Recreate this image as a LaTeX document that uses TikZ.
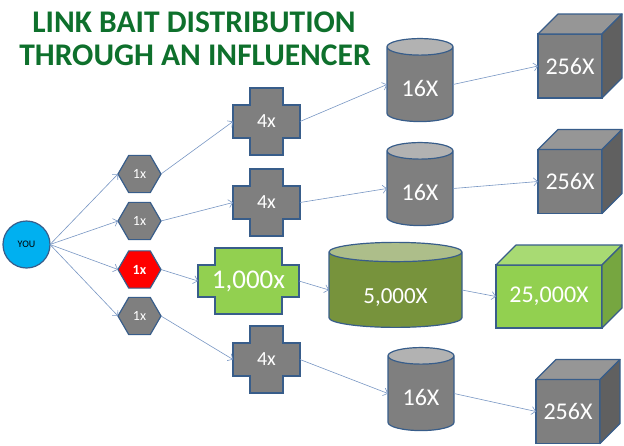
\documentclass[tikz,border=0pt]{standalone}
\usepackage{fontspec}
\setmainfont{Carlito}
\usetikzlibrary{arrows.meta,shapes.geometric,backgrounds}
\definecolor{lb_edge}{RGB}{56, 93, 138}
\definecolor{lb_link}{RGB}{120, 150, 195}
\definecolor{lb_gray}{RGB}{127, 127, 127}
\definecolor{lb_lid}{RGB}{178, 178, 178}
\definecolor{lb_top}{RGB}{150, 150, 150}
\definecolor{lb_side}{RGB}{96, 96, 96}
\definecolor{lb_cyan}{RGB}{0, 176, 240}
\definecolor{lb_red}{RGB}{255, 0, 0}
\definecolor{lb_green}{RGB}{146, 208, 80}
\definecolor{lb_greentop}{RGB}{168, 218, 115}
\definecolor{lb_greenside}{RGB}{118, 166, 64}
\definecolor{lb_olive}{RGB}{119, 147, 60}
\definecolor{lb_olivelid}{RGB}{173, 190, 138}
\definecolor{lb_title}{RGB}{14, 112, 44}
\tikzstyle{you}=[circle,fill=lb_cyan,draw=lb_edge,line width=1.2pt,
  minimum size=47pt,inner sep=0pt,outer sep=0pt,font=\fontsize{10}{12}\selectfont]
\tikzstyle{hex}=[regular polygon,regular polygon sides=6,fill=lb_gray,draw=lb_edge,
  line width=1.2pt,minimum size=43pt,inner sep=0pt,outer sep=0pt,text=white,
  font=\fontsize{14}{16}\selectfont]
\tikzstyle{plus}=[rectangle,minimum width=67pt,minimum height=67pt,inner sep=0pt,
  outer sep=0pt,text=white,font=\fontsize{20}{22}\selectfont]
\tikzstyle{can}=[cylinder,shape border rotate=90,draw=lb_edge,line width=1.2pt,
  cylinder uses custom fill,cylinder body fill=lb_gray,cylinder end fill=lb_lid,
  minimum width=66pt,minimum height=83pt,aspect=0.45,inner sep=0pt,outer sep=0pt,
  text height=24pt,text depth=0pt,text=white,font=\fontsize{24}{26}\selectfont]
\tikzstyle{face}=[rectangle,fill=lb_gray,draw=lb_edge,line width=1.2pt,
  minimum width=64pt,minimum height=64pt,inner sep=0pt,outer sep=0pt,text=white,
  font=\fontsize{24}{26}\selectfont]
\tikzstyle{title}=[anchor=base,text=lb_title,font=\fontsize{31.5}{34}\selectfont\bfseries]
\tikzstyle{link}=[draw=lb_link,line width=0.6pt,-{Straight Barb[length=4pt,width=8pt]}]

\begin{document}
\begin{tikzpicture}[x=1pt,y=-1pt]
            \useasboundingbox (0,0) rectangle (624,445);
            \node [style=title] (17) at (194, 32) {LINK BAIT DISTRIBUTION};
            \node [style=title] (18) at (195, 65) {THROUGH AN INFLUENCER};
            \node [style=you] (0) at (26.5, 244.5) {YOU};
            \node [style=hex] (1) at (139.5, 174) {1x};
            \node [style=hex] (2) at (139.5, 221) {1x};
            \node [style=hex, fill=lb_red, font=\fontsize{14}{16}\selectfont\bfseries] (3) at (139.5, 269.5) {1x};
            \node [style=hex] (4) at (139.5, 316) {1x};
            \node [style=plus] (5) at (266.5, 121.5) {4x};
            \node [style=plus] (6) at (266.5, 202.5) {4x};
            \node [style=plus, minimum width=101pt, minimum height=66pt, font=\fontsize{27}{29}\selectfont] (7) at (248.5, 281) {1,000x};
            \node [style=plus] (8) at (266.5, 359.5) {4x};
            \node [style=can] (9) at (420, 84.5) {16X};
            \node [style=can] (10) at (420, 188.5) {16X};
            \node [style=can, cylinder body fill=lb_olive, cylinder end fill=lb_olivelid, minimum width=133pt, minimum height=85pt, aspect=0.3, text height=27pt, font=\fontsize{23}{25}\selectfont] (11) at (395.5, 290) {5,000X};
            \node [style=can] (12) at (421, 393.5) {16X};
            \node [style=face] (13) at (570, 66) {256X};
            \node [style=face] (14) at (570, 181.5) {256X};
            \node [style=face, fill=lb_green, minimum width=106pt, minimum height=63pt] (15) at (549, 296.5) {25,000X};
            \node [style=face] (16) at (568, 411.5) {256X};
            \begin{pgfonlayer}{background}
            \foreach \n/\c in {5/lb_gray, 6/lb_gray, 7/lb_green, 8/lb_gray}
                \draw [fill=\c, draw=lb_edge, line width=1.2pt]
                    ([xshift=17pt]\n.north west) -- ([xshift=-17pt]\n.north east)
                    -- ([xshift=-17pt,yshift=-17pt]\n.north east) -- ([yshift=-17pt]\n.north east)
                    -- ([yshift=17pt]\n.south east) -- ([xshift=-17pt,yshift=17pt]\n.south east)
                    -- ([xshift=-17pt]\n.south east) -- ([xshift=17pt]\n.south west)
                    -- ([xshift=17pt,yshift=17pt]\n.south west) -- ([yshift=17pt]\n.south west)
                    -- ([yshift=-17pt]\n.north west) -- ([xshift=17pt,yshift=-17pt]\n.north west)
                    -- cycle;
            \end{pgfonlayer}
            \foreach \n/\t/\s in {13/lb_top/lb_side, 14/lb_top/lb_side, 15/lb_greentop/lb_greenside, 16/lb_top/lb_side} {
                \draw [fill=\t, draw=lb_edge, line width=1.2pt, line join=round]
                    (\n.north west) -- ([shift={(20,-20)}]\n.north west)
                    -- ([shift={(20,-20)}]\n.north east) -- (\n.north east) -- cycle;
                \draw [fill=\s, draw=lb_edge, line width=1.2pt, line join=round]
                    (\n.north east) -- ([shift={(20,-20)}]\n.north east)
                    -- ([shift={(20,-20)}]\n.south east) -- (\n.south east) -- cycle;
            }
            \draw [style=link] (0.east) to (1.west);
            \draw [style=link] (0.east) to (2.west);
            \draw [style=link] (0.east) to (3.west);
            \draw [style=link] (0.east) to (4.west);
            \draw [style=link] (1.east) to (5.west);
            \draw [style=link] (2.east) to (6.west);
            \draw [style=link] (3.east) to (7.west);
            \draw [style=link] (4.east) to (8.west);
            \draw [style=link] (5.east) to (9.west);
            \draw [style=link] (6.east) to (10.west);
            \draw [style=link] (7.east) to (11.west);
            \draw [style=link] (8.east) to (12.west);
            \draw [style=link] (9.east) to (13.west);
            \draw [style=link] (10.east) to (14.west);
            \draw [style=link] (11.east) to (15.west);
            \draw [style=link] (12.east) to (16.west);
    \end{tikzpicture}
\end{document}
